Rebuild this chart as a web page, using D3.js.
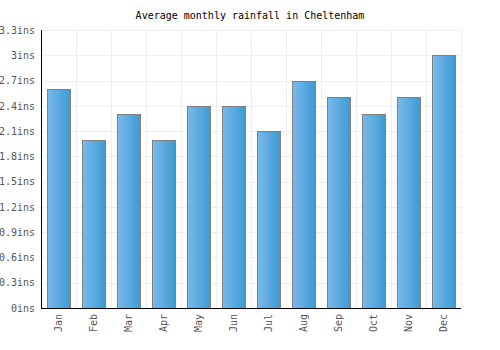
<!DOCTYPE html>
<html><head><meta charset="utf-8">
<script src="https://cdn.jsdelivr.net/npm/d3@7"></script>
<style>body{margin:0;background:#fff}svg{display:block}</style>
</head><body>
<script>
const months = ["Jan","Feb","Mar","Apr","May","Jun","Jul","Aug","Sep","Oct","Nov","Dec"];
const rainfall = [2.6,2.0,2.3,2.0,2.4,2.4,2.1,2.7,2.5,2.3,2.5,3.0];
const yTicks = [0,0.3,0.6,0.9,1.2,1.5,1.8,2.1,2.4,2.7,3.0,3.3];
const title = "Average monthly rainfall in Cheltenham";

const W=500,H=350, m={l:41,r:39,t:30,b:42};
const svg=d3.select("body").append("svg").attr("width",W).attr("height",H);
const defs=svg.append("defs");
const g1=defs.append("linearGradient").attr("id","bg").attr("x1","0").attr("x2","1").attr("y1","0").attr("y2","0");
g1.append("stop").attr("offset","0").attr("stop-color","#7ab9eb");
g1.append("stop").attr("offset","1").attr("stop-color","#3c9bd3");

const x=d3.scaleBand().domain(months).range([m.l,W-m.r]).paddingInner(0.33).paddingOuter(0.165);
const y=d3.scaleLinear().domain([0,3.3]).range([H-m.b,m.t]);
const font="'DejaVu Sans Mono', monospace";

// grid
const step=(W-m.r-m.l)/12;
const grid=svg.append("g");
grid.selectAll(".h").data(yTicks).join("line").attr("x1",m.l).attr("x2",W-m.r)
 .attr("y1",d=>Math.round(y(d))+0.5).attr("y2",d=>Math.round(y(d))+0.5).attr("stroke","#eeeeee");
grid.selectAll(".v").data(d3.range(13)).join("line")
 .attr("x1",i=>Math.round(m.l+i*step)+0.5).attr("x2",i=>Math.round(m.l+i*step)+0.5)
 .attr("y1",m.t).attr("y2",H-m.b).attr("stroke","#eeeeee");

// bars
svg.selectAll(".bar").data(months).join("rect")
 .attr("x",d=>Math.round(x(d))+0.5).attr("width",Math.round(x.bandwidth()))
 .attr("y",(d,i)=>Math.round(y(rainfall[i]))+0.5).attr("height",(d,i)=>Math.round(y(0))-Math.round(y(rainfall[i])))
 .attr("fill","url(#bg)").attr("stroke","#808080").attr("stroke-width",1);

// axes
const ya=svg.append("g").attr("transform",`translate(${m.l},0)`)
 .call(d3.axisLeft(y).tickValues(yTicks).tickSize(0).tickPadding(6).tickFormat(d=>(+d.toFixed(1))+"ins"));
ya.select(".domain").remove();
ya.selectAll("text").attr("font-family",font).attr("font-size",10).attr("fill","#555");
svg.append("line").attr("x1",m.l+0.5).attr("x2",m.l+0.5).attr("y1",m.t).attr("y2",H-m.b).attr("stroke","#000");

const xa=svg.append("g").attr("transform",`translate(0,${H-m.b})`)
 .call(d3.axisBottom(x).tickSize(0));
xa.select(".domain").remove();
xa.selectAll("text").attr("font-family",font).attr("font-size",10).attr("fill","#555")
 .attr("transform","rotate(-90)").attr("text-anchor","end").attr("dx","-6").attr("y",0).attr("x",0)
 .attr("dy","0.35em");
svg.append("line").attr("x1",m.l).attr("x2",W-m.r).attr("y1",H-m.b+0.5).attr("y2",H-m.b+0.5).attr("stroke","#000");

svg.append("text").attr("x",W/2).attr("y",19).attr("text-anchor","middle")
 .attr("font-family",font).attr("font-size",10).attr("fill","#000").text(title);
</script>
</body></html>
